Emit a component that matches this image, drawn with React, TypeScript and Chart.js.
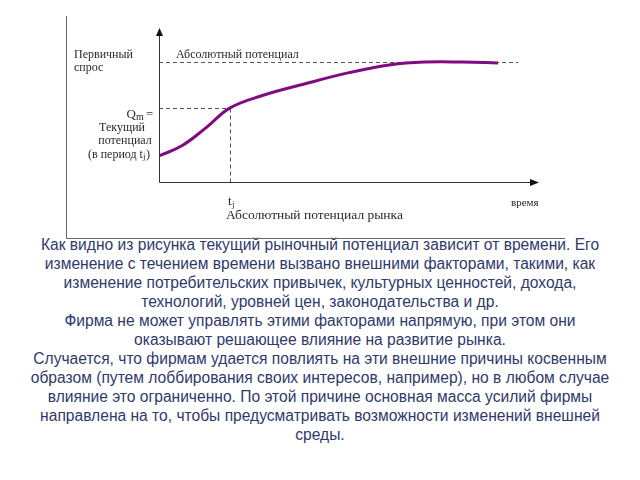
import React, { useEffect, useRef } from "react";
import { Chart, registerables } from "chart.js";

Chart.register(...registerables);

// Curve: time (0..100) vs primary demand (0..100)
const curveTime = [0, 6, 12.5, 18.7, 27, 38, 50, 61, 70, 80, 89.2];
const curveDemand = [16.9, 23.5, 35.5, 48.1, 56, 63.5, 71, 76.2, 77.9, 77.9, 77.3];
const absolutePotential = 77.9;
const absoluteLineEnd = 94.5;
const tj = 18.7;
const qm = 48.1;

const paragraphLines = [
  "Как видно из рисунка текущий рыночный потенциал зависит от времени. Его",
  "изменение с течением времени вызвано внешними факторами, такими, как",
  "изменение потребительских привычек, культурных ценностей, дохода,",
  "технологий, уровней цен, законодательства и др.",
  "Фирма не может управлять этими факторами напрямую, при этом они",
  "оказывают решающее влияние на развитие рынка.",
  "Случается, что фирмам удается повлиять на эти внешние причины косвенным",
  "образом (путем лоббирования своих интересов, например), но в любом случае",
  "влияние это ограниченно. По этой причине основная масса усилий фирмы",
  "направлена на то, чтобы предусматривать возможности изменений внешней",
  "среды.",
];

const serif = '"Liberation Serif", "DejaVu Serif", serif';

const diagramPlugin = {
  id: "diagram",
  beforeDatasetsDraw(chart: any) {
    const { ctx, scales } = chart;
    const xs = scales.x;
    const ys = scales.y;
    ctx.save();
    ctx.strokeStyle = "#555";
    ctx.lineWidth = 1;
    ctx.setLineDash([4, 3]);
    const yAbs = Math.round(ys.getPixelForValue(absolutePotential)) + 0.5;
    const yQm = Math.round(ys.getPixelForValue(qm)) + 0.5;
    const xTj = Math.round(xs.getPixelForValue(tj)) + 0.5;
    ctx.beginPath();
    ctx.moveTo(xs.getPixelForValue(0), yAbs);
    ctx.lineTo(xs.getPixelForValue(absoluteLineEnd), yAbs);
    ctx.moveTo(xs.getPixelForValue(0), yQm);
    ctx.lineTo(xTj, yQm);
    ctx.moveTo(xTj, yQm);
    ctx.lineTo(xTj, ys.getPixelForValue(0));
    ctx.stroke();
    ctx.restore();
  },
  afterDraw(chart: any) {
    const { ctx, chartArea } = chart;
    const x0 = Math.round(chartArea.left) + 0.5;
    const y0 = Math.round(chartArea.bottom) + 0.5;
    ctx.save();
    ctx.strokeStyle = "#666";
    ctx.lineWidth = 1;
    ctx.beginPath();
    ctx.moveTo(66.5, 16);
    ctx.lineTo(66.5, 238.5);
    ctx.lineTo(565, 238.5);
    ctx.stroke();
    ctx.strokeStyle = "#333";
    ctx.beginPath();
    ctx.moveTo(x0, y0);
    ctx.lineTo(x0, chartArea.top + 6);
    ctx.moveTo(x0, y0);
    ctx.lineTo(chartArea.right - 7, y0);
    ctx.stroke();
    ctx.fillStyle = "#111";
    ctx.beginPath();
    ctx.moveTo(x0, chartArea.top);
    ctx.lineTo(x0 - 3.5, chartArea.top + 8);
    ctx.lineTo(x0 + 3.5, chartArea.top + 8);
    ctx.closePath();
    ctx.fill();
    ctx.beginPath();
    ctx.moveTo(chartArea.right, y0);
    ctx.lineTo(chartArea.right - 9, y0 - 3.5);
    ctx.lineTo(chartArea.right - 9, y0 + 3.5);
    ctx.closePath();
    ctx.fill();

    ctx.fillStyle = "#2a2a2a";
    ctx.textBaseline = "middle";
    ctx.textAlign = "left";
    ctx.font = `12px ${serif}`;
    ctx.fillText("Первичный", 74, 55);
    ctx.fillText("спрос", 74, 68);
    ctx.fillText("Абсолютный потенциал", 176, 55);

    ctx.textAlign = "right";
    ctx.fillText("=", 153, 115);
    ctx.font = `13px ${serif}`;
    ctx.fillText("Q", 136, 115);
    ctx.font = `10px ${serif}`;
    ctx.textAlign = "left";
    ctx.fillText("m", 136, 117);
    ctx.font = `12px ${serif}`;
    ctx.textAlign = "center";
    ctx.fillText("Текущий", 122, 128);
    ctx.fillText("потенциал", 125, 141);
    ctx.textAlign = "left";
    ctx.fillText("(в период t", 88, 155);
    const w = ctx.measureText("(в период t").width;
    ctx.font = `9px ${serif}`;
    ctx.fillText("j", 88 + w, 157);
    const wj = ctx.measureText("j").width;
    ctx.font = `12px ${serif}`;
    ctx.fillText(")", 88 + w + wj + 0.5, 155);

    ctx.font = `13px ${serif}`;
    ctx.fillText("t", 228, 202);
    ctx.font = `9px ${serif}`;
    ctx.fillText("j", 232, 205);
    ctx.font = `13.5px ${serif}`;
    ctx.fillText("Абсолютный потенциал рынка", 226, 215);
    ctx.font = `11px ${serif}`;
    ctx.fillText("время", 511, 203);
    ctx.restore();
  },
};

export default function App() {
  const canvasRef = useRef<HTMLCanvasElement | null>(null);

  useEffect(() => {
    if (!canvasRef.current) return;
    const chart = new Chart(canvasRef.current, {
      type: "line",
      data: {
        datasets: [
          {
            data: curveTime.map((t, i) => ({ x: t, y: curveDemand[i] })),
            borderColor: "#800a80",
            borderWidth: 3,
            pointRadius: 0,
            tension: 0.4,
            fill: false,
          },
        ],
      },
      options: {
        animation: false,
        responsive: false,
        maintainAspectRatio: false,
        layout: { padding: { left: 159, top: 28, right: 640 - 539, bottom: 240 - 182 } },
        plugins: { legend: { display: false }, tooltip: { enabled: false } },
        scales: {
          x: { type: "linear", min: 0, max: 100, display: false },
          y: { type: "linear", min: 0, max: 100, display: false },
        },
      },
      plugins: [diagramPlugin],
    });
    return () => chart.destroy();
  }, []);

  return (
    <div
      style={{
        position: "fixed",
        left: 0,
        top: 0,
        width: 640,
        height: 480,
        background: "#fff",
        overflow: "hidden",
      }}
    >
      <div
        style={{
          position: "absolute",
          left: 0,
          top: 235,
          width: 640,
          textAlign: "center",
          fontFamily: '"Liberation Sans", Arial, sans-serif',
          fontSize: 15.6,
          lineHeight: "19px",
          color: "#2f3a6b",
        }}
      >
        {paragraphLines.map((l, i) => (
          <div key={i} style={{ whiteSpace: "nowrap" }}>{l}</div>
        ))}
      </div>
      <canvas
        ref={canvasRef}
        width={640}
        height={240}
        style={{ position: "absolute", left: 0, top: 0, width: 640, height: 240 }}
      />
    </div>
  );
}
